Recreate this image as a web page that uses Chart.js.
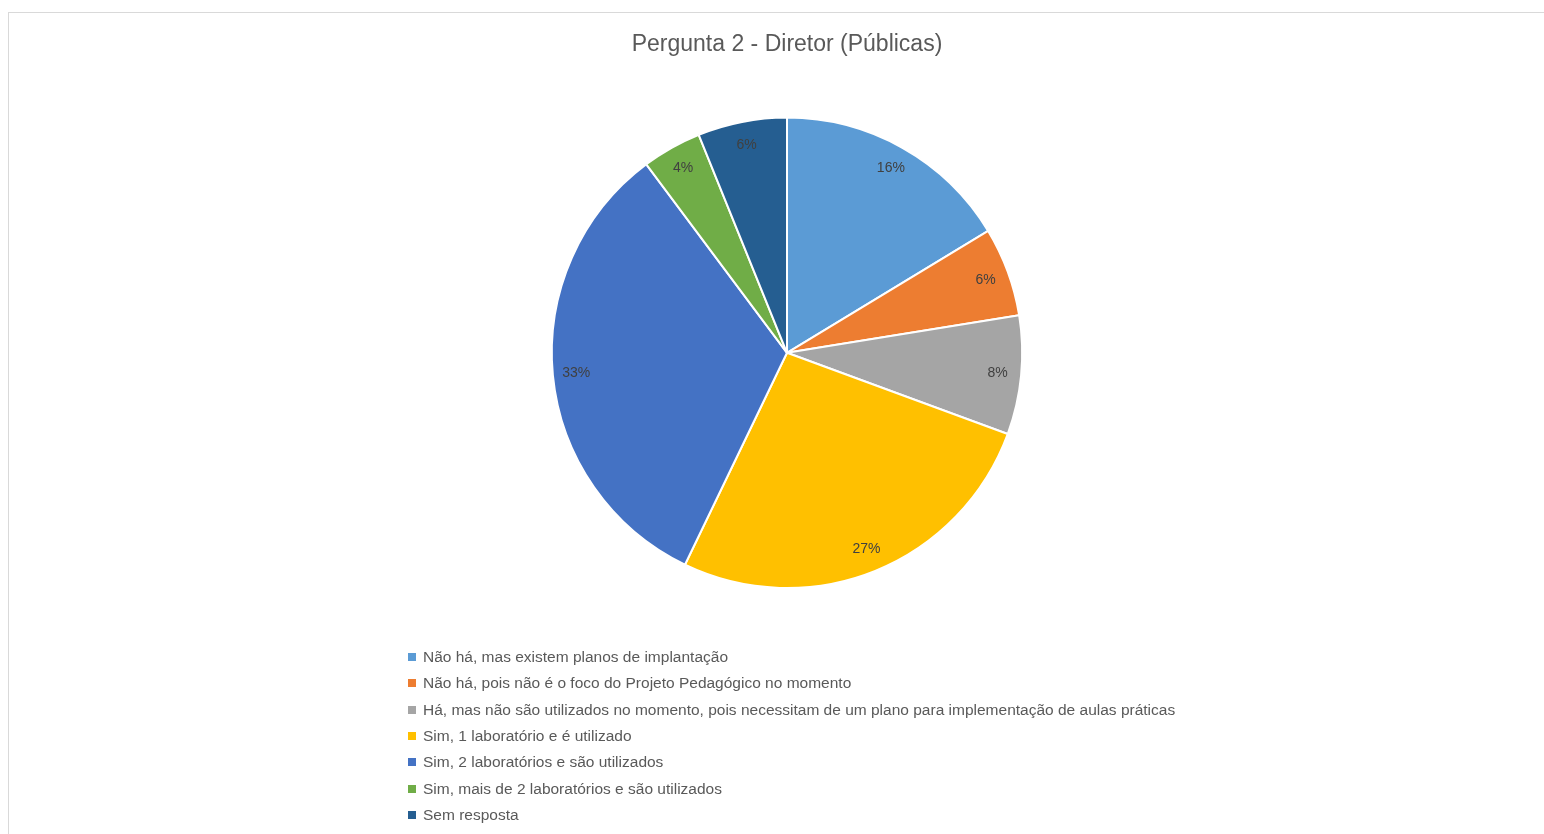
<!DOCTYPE html>
<html>
<head>
<meta charset="utf-8">
<script src="https://cdn.jsdelivr.net/npm/chart.js@4"></script>
<style>
  html, body { margin:0; padding:0; background:#fff; width:1544px; height:834px; overflow:hidden; }
  #frame { position:absolute; left:8px; top:12px; width:1560px; height:900px; border:1px solid #d9d9d9; box-sizing:border-box; }
  #wrap { position:absolute; left:0; top:0; width:1544px; height:834px; }
  #legend { position:absolute; left:408px; top:644px; font-family:"Liberation Sans", Arial, sans-serif; font-size:15.5px; color:#595959; }
  #legend .item { height:26.3px; line-height:22px; white-space:nowrap; display:flex; align-items:center; }
  #legend .box { width:8px; height:8px; margin-right:7px; display:inline-block; }
</style>
</head>
<body>
<div id="frame"></div>
<div id="wrap"><canvas id="c"></canvas></div>
<div id="legend"></div>
<script>
const titleText = "Pergunta 2 - Diretor (Públicas)";
const categories = [
  "Não há, mas existem planos de implantação",
  "Não há, pois não é o foco do Projeto Pedagógico no momento",
  "Há, mas não são utilizados no momento, pois necessitam de um plano para implementação de aulas práticas",
  "Sim, 1 laboratório e é utilizado",
  "Sim, 2 laboratórios e são utilizados",
  "Sim, mais de 2 laboratórios e são utilizados",
  "Sem resposta"
];
const values = [8, 3, 4, 13, 16, 2, 3];
const colors = ["#5B9BD5", "#ED7D31", "#A5A5A5", "#FFC000", "#4472C4", "#70AD47", "#255E91"];

const pieLabels = {
  id: "pieLabels",
  afterDatasetsDraw(chart) {
    const ctx = chart.ctx;
    const meta = chart.getDatasetMeta(0);
    const data = chart.data.datasets[0].data;
    const total = data.reduce((a, b) => a + b, 0);
    ctx.save();
    ctx.font = "14px 'Liberation Sans', Arial, sans-serif";
    ctx.fillStyle = "#404040";
    ctx.textAlign = "center";
    ctx.textBaseline = "middle";
    meta.data.forEach((arc, i) => {
      const p = arc.getProps(["x", "y", "startAngle", "endAngle", "outerRadius"], true);
      const mid = (p.startAngle + p.endAngle) / 2;
      const r = p.outerRadius * 0.9;
      ctx.fillText(Math.round(data[i] / total * 100) + "%", p.x + Math.cos(mid) * r, p.y + Math.sin(mid) * r);
    });
    ctx.restore();
  }
};

new Chart(document.getElementById("c"), {
  type: "pie",
  data: {
    labels: categories,
    datasets: [{
      data: values,
      backgroundColor: colors,
      borderColor: "#ffffff",
      borderWidth: 2
    }]
  },
  options: {
    responsive: true,
    maintainAspectRatio: false,
    animation: false,
    layout: { padding: { left: 30, right: 0, top: 0, bottom: 245 } },
    plugins: {
      legend: { display: false },
      tooltip: { enabled: false },
      title: {
        display: true,
        text: titleText,
        color: "#595959",
        font: { family: "'Liberation Sans', Arial, sans-serif", size: 23, weight: "normal" },
        padding: { top: 31, bottom: 58 }
      }
    }
  },
  plugins: [pieLabels]
});

const leg = document.getElementById("legend");
categories.forEach((c, i) => {
  const d = document.createElement("div");
  d.className = "item";
  const b = document.createElement("span");
  b.className = "box";
  b.style.background = colors[i];
  const t = document.createElement("span");
  t.textContent = c;
  d.appendChild(b); d.appendChild(t);
  leg.appendChild(d);
});
</script>
</body>
</html>
